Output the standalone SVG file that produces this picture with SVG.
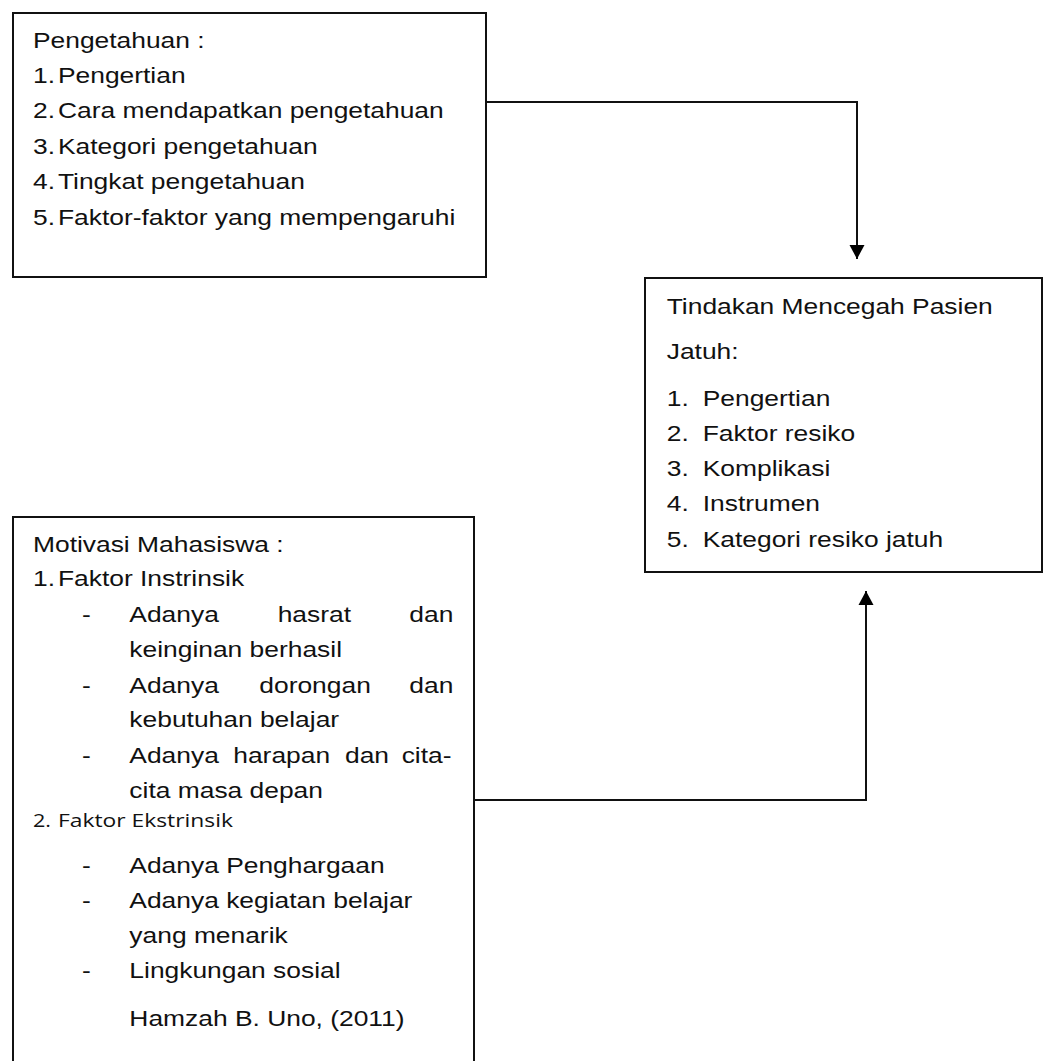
<svg xmlns="http://www.w3.org/2000/svg" width="1046" height="1061" viewBox="0 0 1046 1061">
  <style>
    .box { fill: #ffffff; stroke: #111111; stroke-width: 2; }
    .conn { fill: none; stroke: #111111; stroke-width: 2; }
    .t { font-family: "Liberation Sans", Arial, sans-serif; font-size: 22px; fill: #111111; }
    .c { font-family: "Open Sans", "Noto Sans", sans-serif; font-size: 18px; fill: #111111; }
  </style>
  <defs>
    <marker id="arrow" markerUnits="userSpaceOnUse" markerWidth="16" markerHeight="16" viewBox="0 0 16 16" refX="14" refY="8" orient="auto">
      <path d="M0,0.5 L14,8 L0,15.5 Z" fill="#000000"/>
    </marker>
  </defs>
  <rect width="1046" height="1061" fill="#ffffff"/>

  <g id="connectors">
    <path class="conn" d="M486,102 H857 V259" marker-end="url(#arrow)"/>
    <path class="conn" d="M474,800 H866 V591" marker-end="url(#arrow)"/>
  </g>

  <g id="node-pengetahuan">
    <rect class="box" x="13" y="13" width="473" height="264"/>
    <g transform="scale(1.2,1)">
      <text class="t" x="27.5" y="48">Pengetahuan :</text>
      <text class="t" y="83"><tspan x="27.5">1.</tspan><tspan x="48.3">Pengertian</tspan></text>
      <text class="t" y="118"><tspan x="27.5">2.</tspan><tspan x="48.3">Cara mendapatkan pengetahuan</tspan></text>
      <text class="t" y="154"><tspan x="27.5">3.</tspan><tspan x="48.3">Kategori pengetahuan</tspan></text>
      <text class="t" y="189"><tspan x="27.5">4.</tspan><tspan x="48.3">Tingkat pengetahuan</tspan></text>
      <text class="t" y="225"><tspan x="27.5">5.</tspan><tspan x="48.3">Faktor-faktor yang mempengaruhi</tspan></text>
    </g>
  </g>

  <g id="node-tindakan">
    <rect class="box" x="645" y="278" width="397" height="294"/>
    <g transform="scale(1.2,1)">
      <text class="t" x="555.6" y="314">Tindakan Mencegah Pasien</text>
      <text class="t" x="555.6" y="359">Jatuh:</text>
      <text class="t" y="406"><tspan x="555.6">1.</tspan><tspan x="585.6">Pengertian</tspan></text>
      <text class="t" y="441"><tspan x="555.6">2.</tspan><tspan x="585.6">Faktor resiko</tspan></text>
      <text class="t" y="476"><tspan x="555.6">3.</tspan><tspan x="585.6">Komplikasi</tspan></text>
      <text class="t" y="511"><tspan x="555.6">4.</tspan><tspan x="585.6">Instrumen</tspan></text>
      <text class="t" y="547"><tspan x="555.6">5.</tspan><tspan x="585.6">Kategori resiko jatuh</tspan></text>
    </g>
  </g>

  <g id="node-motivasi">
    <rect class="box" x="13" y="517" width="461" height="560"/>
    <g transform="scale(1.2,1)">
      <text class="t" x="27.5" y="552">Motivasi Mahasiswa :</text>
      <text class="t" y="586"><tspan x="27.5">1.</tspan><tspan x="48.3">Faktor  Instrinsik</tspan></text>
      <text class="t" y="622"><tspan x="68.3">-</tspan><tspan x="107.8">Adanya</tspan><tspan x="231.4">hasrat</tspan><tspan x="341.1">dan</tspan></text>
      <text class="t" x="107.8" y="657">keinginan berhasil</text>
      <text class="t" y="693"><tspan x="68.3">-</tspan><tspan x="107.8">Adanya</tspan><tspan x="216.1">dorongan</tspan><tspan x="341.1">dan</tspan></text>
      <text class="t" x="107.8" y="727">kebutuhan belajar</text>
      <text class="t" y="763"><tspan x="68.3">-</tspan><tspan x="107.8">Adanya</tspan><tspan x="194.4">harapan</tspan><tspan x="287.5">dan</tspan><tspan x="334.7">cita-</tspan></text>
      <text class="t" x="107.8" y="798">cita masa depan</text>
      <text class="c" y="827"><tspan x="27.5">2.</tspan><tspan x="48.3" textLength="145.8" lengthAdjust="spacingAndGlyphs">Faktor Ekstrinsik</tspan></text>
      <text class="t" y="873"><tspan x="68.3">-</tspan><tspan x="107.8">Adanya Penghargaan</tspan></text>
      <text class="t" y="908"><tspan x="68.3">-</tspan><tspan x="107.8">Adanya kegiatan belajar</tspan></text>
      <text class="t" x="107.8" y="943">yang menarik</text>
      <text class="t" y="978"><tspan x="68.3">-</tspan><tspan x="107.8">Lingkungan sosial</tspan></text>
      <text class="t" x="107.8" y="1026">Hamzah B. Uno, (2011)</text>
    </g>
  </g>
</svg>
